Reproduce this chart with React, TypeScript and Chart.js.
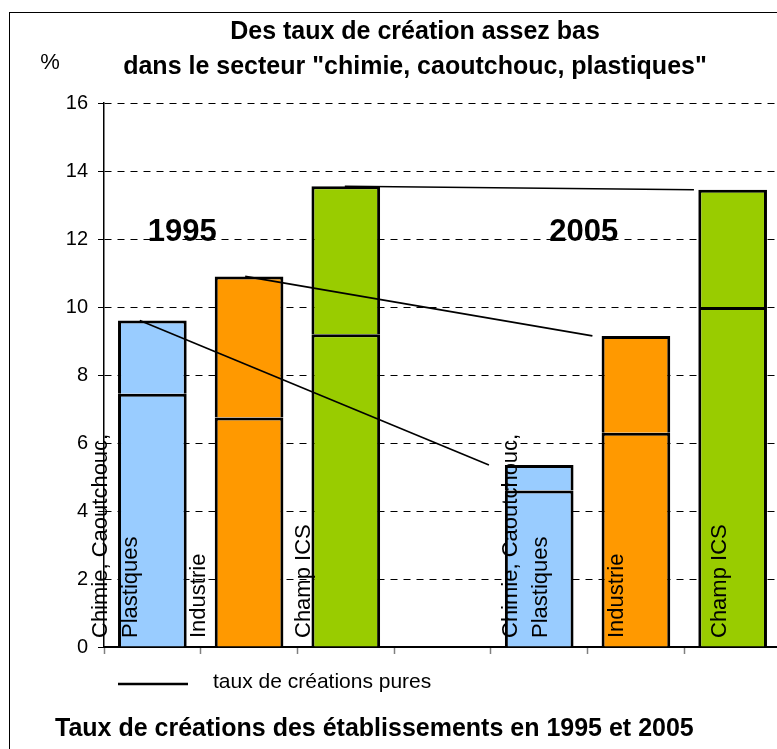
import { useEffect, useRef } from "react";
import { Chart, registerables } from "chart.js";

Chart.register(...registerables);

// Categories: three sectors for 1995, an empty gap, then the same sectors for 2005
const categories = [
  "Chimie, Caoutchouc, Plastiques",
  "Industrie",
  "Champ ICS",
  "",
  "Chimie, Caoutchouc, Plastiques",
  "Industrie",
  "Champ ICS",
];
const categoryLines = [
  ["Chimie, Caoutchouc,", "Plastiques"],
  ["Industrie"],
  ["Champ ICS"],
  [],
  ["Chimie, Caoutchouc,", "Plastiques"],
  ["Industrie"],
  ["Champ ICS"],
];
const years = ["1995", "2005"];

// Total creation rate (%) and pure creation rate (%) per sector
const total1995 = [9.6, 10.9, 13.55];
const pure1995 = [7.45, 6.75, 9.2];
const total2005 = [5.35, 9.15, 13.45];
const pure2005 = [4.6, 6.3, 10.0];

const yTicks = [0, 2, 4, 6, 8, 10, 12, 14, 16];

const titleLines = [
  "Des taux de création assez bas",
  'dans le secteur "chimie, caoutchouc, plastiques"',
];
const unitLabel = "%";
const legendLabel = "taux de créations pures";
const footer = "Taux de créations des établissements en 1995 et 2005";

const sectorColors = ["#99CCFF", "#FF9900", "#99CC00"];

// Layout helpers (positions along the category axis, in slot units)
const connectorFrom = [-0.13, 0.96, 1.99];
const connectorTo = [3.48, 4.55, 5.6];
const yearTagX = [0.31, 4.46];
const yearTagValue = 12.2;
const labelShift = [-36, -50, -42, 0, -13, -19, -13];

const FONT = "'Liberation Sans', Arial, sans-serif";

const pureAll = [...pure1995, null, ...pure2005];
const totalAll = [...total1995, null, ...total2005];
const restAll = totalAll.map((t, i) =>
  t === null || pureAll[i] === null ? null : +(t - (pureAll[i] as number)).toFixed(3)
);
const barColors = [...sectorColors, "rgba(0,0,0,0)", ...sectorColors];

const annotate = {
  id: "annotate",
  afterDatasetsDraw(chart: any) {
    const { ctx, scales } = chart;
    const x = scales.x;
    const y = scales.y;
    ctx.save();
    // Lines joining each sector's 1995 total to its 2005 total
    ctx.strokeStyle = "#000";
    ctx.lineWidth = 1.6;
    connectorFrom.forEach((from, i) => {
      ctx.beginPath();
      ctx.moveTo(x.getPixelForValue(from), y.getPixelForValue(total1995[i]));
      ctx.lineTo(x.getPixelForValue(connectorTo[i]), y.getPixelForValue(total2005[i]));
      ctx.stroke();
    });
    ctx.restore();
  },
  afterDraw(chart: any) {
    const { ctx, scales } = chart;
    const x = scales.x;
    const y = scales.y;
    ctx.save();
    ctx.fillStyle = "#000";
    ctx.strokeStyle = "#000";

    // Title
    ctx.textAlign = "center";
    ctx.textBaseline = "middle";
    ctx.font = `bold 25px ${FONT}`;
    ctx.fillText(titleLines[0], chart.width / 2, 32);
    ctx.fillText(titleLines[1], chart.width / 2, 67);

    // Unit
    ctx.font = `22px ${FONT}`;
    ctx.fillText(unitLabel, 50, 63);

    // Year tags
    ctx.font = `bold 31px ${FONT}`;
    years.forEach((yr, k) => {
      ctx.fillText(yr, x.getPixelForValue(yearTagX[k]), y.getPixelForValue(yearTagValue));
    });

    // Vertical category labels
    const meta = chart.getDatasetMeta(0);
    const y0 = y.getPixelForValue(0) - 9;
    ctx.font = `22px ${FONT}`;
    ctx.textAlign = "left";
    categoryLines.forEach((lines, i) => {
      if (!lines.length) return;
      const bar = meta.data[i];
      const cx = bar.x + labelShift[i];
      const n = lines.length;
      lines.forEach((line, j) => {
        const lx = cx + (j - (n - 1) / 2) * 30;
        ctx.save();
        ctx.translate(lx, y0);
        ctx.rotate(-Math.PI / 2);
        ctx.fillText(line, 0, 0);
        ctx.restore();
      });
    });

    // Legend
    ctx.lineWidth = 2.5;
    ctx.beginPath();
    ctx.moveTo(118, 684);
    ctx.lineTo(188, 684);
    ctx.stroke();
    ctx.font = `21px ${FONT}`;
    ctx.textAlign = "left";
    ctx.fillText(legendLabel, 213, 682);

    // Footer
    ctx.font = `bold 25px ${FONT}`;
    ctx.fillText(footer, 55, 729);
    ctx.restore();
  },
};

export default function App() {
  const canvasRef = useRef<HTMLCanvasElement | null>(null);

  useEffect(() => {
    if (!canvasRef.current) return;
    const barStyle = {
      backgroundColor: barColors,
      borderColor: "#000",
      borderWidth: 3,
      barPercentage: 0.71,
      categoryPercentage: 1,
    };

    const chart = new Chart(canvasRef.current, {
      type: "bar",
      data: {
        labels: categories,
        datasets: [
          { label: legendLabel, data: pureAll, ...barStyle },
          { label: "total", data: restAll, ...barStyle },
        ] as any,
      },
      options: {
        responsive: false,
        animation: false,
        events: [],
        layout: { padding: { top: 103, right: 49, left: 0, bottom: 0 } },
        plugins: {
          legend: { display: false },
          title: { display: false },
          tooltip: { enabled: false },
        },
        scales: {
          x: {
            type: "category",
            stacked: true,
            offset: true,
            ticks: { display: false },
            grid: {
              offset: true,
              drawOnChartArea: false,
              drawTicks: true,
              tickLength: 7,
              tickColor: "#808080",
              tickWidth: 1.5,
            },
            border: { display: true, color: "#000", width: 2 },
            afterFit: (s: any) => {
              s.height = 102;
            },
          },
          y: {
            type: "linear",
            stacked: true,
            min: 0,
            max: 16,
            afterBuildTicks: (s: any) => {
              s.ticks = yTicks.map((v) => ({ value: v }));
            },
            ticks: {
              color: "#000",
              font: { family: FONT, size: 20 },
              padding: 10,
            },
            grid: {
              color: "#000",
              lineWidth: 1,
              drawTicks: true,
              tickLength: 6,
              tickColor: "#000",
              tickBorderDash: [],
            },
            border: { display: true, color: "#000", width: 1.5, dash: [7, 6] },
            afterFit: (s: any) => {
              s.width = 104;
            },
          },
        },
      },
      plugins: [annotate],
    });
    return () => chart.destroy();
  }, []);

  return (
    <div
      style={{
        position: "fixed",
        left: 0,
        top: 0,
        width: 777,
        height: 749,
        overflow: "hidden",
        background: "#fff",
      }}
    >
      <div
        style={{
          position: "absolute",
          left: 9,
          top: 12,
          width: 812,
          height: 800,
          border: "1px solid #000",
        }}
      />
      <canvas
        ref={canvasRef}
        width={830}
        height={749}
        style={{ position: "absolute", left: 0, top: 0, width: 830, height: 749 }}
      />
    </div>
  );
}
